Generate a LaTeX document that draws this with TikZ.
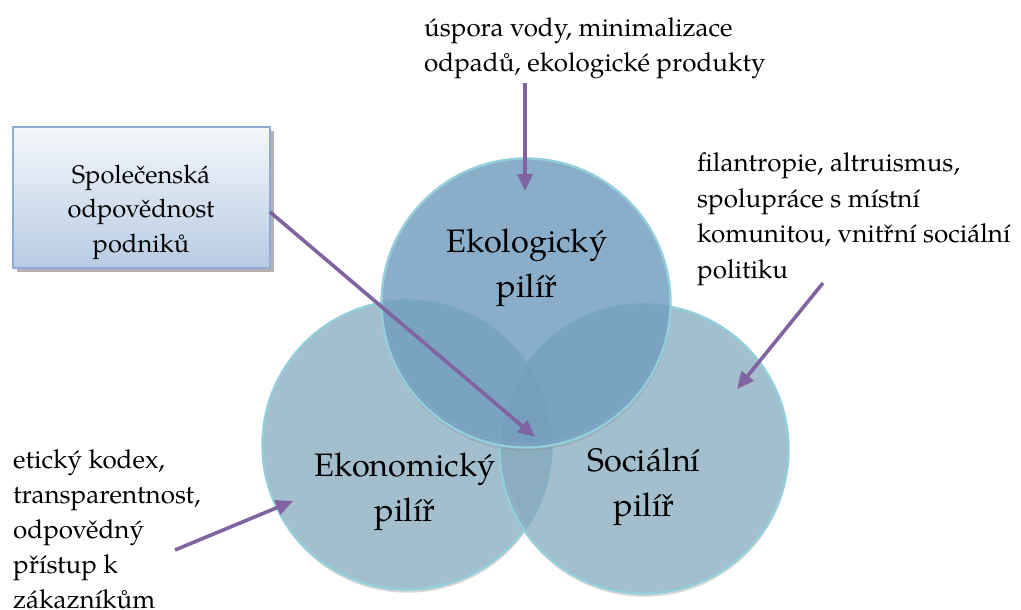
\documentclass[tikz,border=0pt]{standalone}
\usepackage{fontspec}
\setmainfont{TeX Gyre Pagella}
\usetikzlibrary{arrows.meta,shadows}

\definecolor{linkpurple}{HTML}{8064A2}
\definecolor{rimcyan}{HTML}{93CEDB}
\definecolor{ecofill}{RGB}{114,157,190}
\definecolor{basefill}{RGB}{129,166,186}
\definecolor{boxtop}{HTML}{F4F7FB}
\definecolor{boxbottom}{HTML}{B7CBE3}
\definecolor{boxedge}{HTML}{8EACD4}

\tikzset{
  pillar/.style={circle, inner sep=0pt, minimum size=289pt, draw=rimcyan,
    line width=2.4pt, fill=#1},
  pillarlabel/.style={align=center, anchor=base,
    font=\fontsize{32.5}{45}\selectfont},
  note/.style={align=left, anchor=base west, inner sep=0pt,
    font=\fontsize{26}{35.5}\selectfont},
  link/.style={draw=linkpurple, line width=3.6pt,
    -{Triangle[length=17pt,width=15pt]}},
  titlebox/.style={rectangle, draw=boxedge, line width=2pt,
    top color=boxtop, bottom color=boxbottom,
    minimum width=257pt, minimum height=141pt,
    drop shadow={shadow xshift=4pt, shadow yshift=-4pt,
      fill=black!55, opacity=.55}},
  titletext/.style={align=center, anchor=base,
    font=\fontsize{25.5}{34.5}\selectfont},
}

% rim shadow under the lower edge of a circle, and a highlight along its top
\newcommand{\rimshade}[2]{%
  \begin{scope}[even odd rule]
    \clip (0,0) rectangle (1021,610) #1 circle (144.5);
    \fill[black!45, opacity=.35] #1 ++(0.5,3.2) circle (144.5);
  \end{scope}%
  \draw[white, line width=1pt, opacity=.6]
    #1 ++(#2:141) arc[start angle=#2, end angle=40, radius=141];
}

\begin{document}
\begin{tikzpicture}[x=1pt, y=-1pt]
\useasboundingbox (0,0) rectangle (1021,610);

% the three pillars
\rimshade{(407,445)}{165}
\node[pillar=basefill, fill opacity=.73] (ekon) at (407,445) {};
\rimshade{(644,449)}{165}
\node[pillar=basefill, fill opacity=.73] (soc) at (644,449) {};
\rimshade{(526,303)}{165}
\node[pillar=ecofill, fill opacity=.83] (eko) at (526,303) {};

% labels, placed by the baseline of their last line
\node[pillarlabel] (ekolabel) at (527,297) {Ekologický\\pilíř};
\node[pillarlabel] (ekonlabel) at (405,521) {Ekonomický\\pilíř};
\node[pillarlabel] (soclabel) at (644,516) {Sociální\\pilíř};

% title box
\node[titlebox] (csr) at (141,197.5) {};
\node[titletext] (csrtext) at (141,252) {Společenská\\odpovědnost\\podniků};

% notes, placed by the baseline of their last line
\node[note] (ekonote) at (424,72) {úspora vody, minimalizace\\odpadů, ekologické produkty};
\node[note] (socnote) at (697,278) {filantropie, altruismus,\\spolupráce s místní\\komunitou, vnitřní sociální\\politiku};
\node[note, font=\fontsize{26}{35}\selectfont] (ekonnote) at (13,608) {etický kodex,\\transparentnost,\\odpovědný\\přístup k\\zákazníkům};

% arrow ends
\coordinate (ekotail) at (525,83);
\coordinate (ekotip) at (525,191);
\coordinate (csrtail) at (270,212);
\coordinate (csrtip) at (535,437);
\coordinate (soctail) at (823,283);
\coordinate (soctip) at (737,389);
\coordinate (ekontail) at (175,550);
\coordinate (ekontip) at (293,501);

\draw[link] (ekotail) -- (ekotip);
\draw[link] (csrtail) -- (csrtip);
\draw[link] (soctail) -- (soctip);
\draw[link] (ekontail) -- (ekontip);
\end{tikzpicture}
\end{document}
